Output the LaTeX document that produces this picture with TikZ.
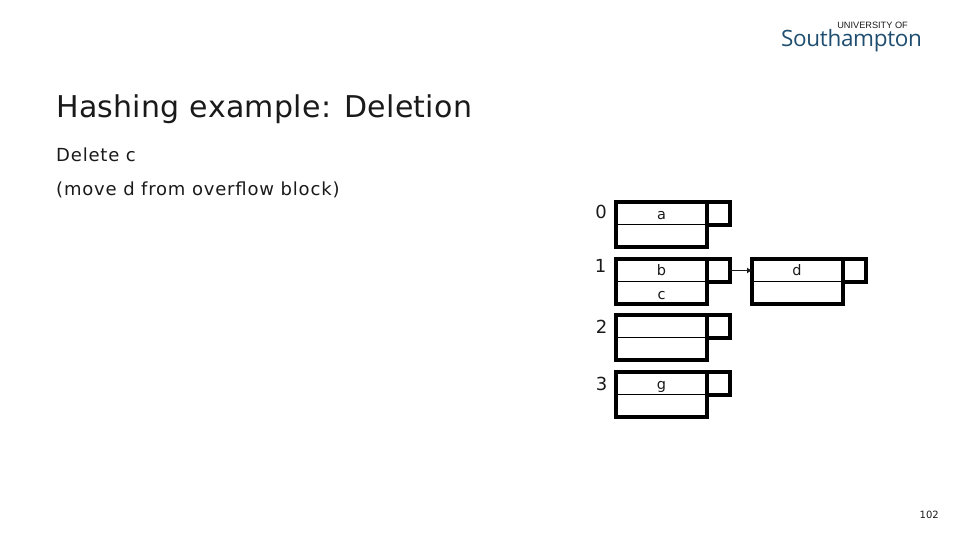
\documentclass[tikz,border=0pt]{standalone}
\usepackage{fontspec}
\setmainfont{DejaVu Sans}
\newfontfamily\logosans{Liberation Sans}
\newfontfamily\logoserif{Open Sans}
\usetikzlibrary{arrows.meta}
\definecolor{ink}{HTML}{1A1A1A}
\definecolor{logoblue}{HTML}{1F4E70}
\tikzset{
  x=1pt,y=-1pt,
  bucket/.style={draw=black,line width=4pt,minimum width=91pt,minimum height=45pt,inner sep=0pt,outer sep=0pt},
  ptr/.style={draw=black,line width=4pt,minimum width=22.5pt,minimum height=23pt,inner sep=0pt,outer sep=0pt},
  label/.style={inner sep=0pt,text=ink,font=\fontsize{18}{20}\selectfont},
  rec/.style={inner sep=0pt,text=ink,font=\fontsize{14.5}{16}\selectfont},
  txt/.style={inner sep=0pt,anchor=base west,text=ink},
  divider/.style={draw=black,line width=1.8pt},
  link/.style={draw=ink,line width=1.8pt,-{Latex[length=5pt,width=6pt]}}
}
\begin{document}
\begin{tikzpicture}
\useasboundingbox (0,0) rectangle (960,540);
% logo
\node[inner sep=0pt,anchor=base east,text=ink,font=\logosans\fontsize{9.2}{10}\selectfont] (logotop) at (908,29) {UNIVERSITY OF};
\node[inner sep=0pt,anchor=base west,text=logoblue,font=\logoserif\fontsize{22.5}{25}\selectfont] (logo) at (781,47) {\addfontfeature{LetterSpace=-1.5}Southampton};
% text
\node[txt,font=\fontsize{30}{33}\selectfont] (title) at (56,118) {\addfontfeature{LetterSpace=1}Hashing example: Deletion};
\node[txt,font=\fontsize{18}{20}\selectfont] (t1) at (56,161.5) {\addfontfeature{LetterSpace=4.5}Delete c};
\node[txt,font=\fontsize{18}{20}\selectfont] (t2) at (56,195) {\addfontfeature{LetterSpace=4.5}(move d from overflow block)};
\node[inner sep=0pt,anchor=base east,text=ink,font=\fontsize{10}{12}\selectfont] (page) at (939,518) {102};
% buckets
\node[bucket] (b0) at (661.5,224.5) {};
\node[bucket] (b1) at (661.5,281.5) {};
\node[bucket] (b2) at (661.5,337.5) {};
\node[bucket] (b3) at (661.5,394.5) {};
\node[bucket] (o1) at (797.5,281.5) {};
\node[ptr] (p0) at (718.5,213.5) {};
\node[ptr] (p1) at (718.5,270.5) {};
\node[ptr] (p2) at (718.5,326.5) {};
\node[ptr] (p3) at (718.5,383.5) {};
\node[ptr] (q1) at (854.5,270.5) {};
\foreach \n in {b0,b1,b2,b3,o1} \draw[divider] (\n.west) -- (\n.east);
% labels
\node[label] (l0) at (601,211.5) {0};
\node[label] (l1) at (600.5,265.5) {1};
\node[label] (l2) at (601.5,326.5) {2};
\node[label] (l3) at (601.5,384) {3};
\node[rec,anchor=base] (ra) at (661.5,219) {a};
\node[rec,anchor=base] (rb) at (661.5,275.5) {b};
\node[rec,anchor=base] (rc) at (661.5,299) {c};
\node[rec,anchor=base] (rd) at (797,275.5) {d};
\node[rec,anchor=base] (rg) at (661.5,389) {g};
\draw[link] (p1.east) -- (o1.west |- p1.east);
\end{tikzpicture}
\end{document}
